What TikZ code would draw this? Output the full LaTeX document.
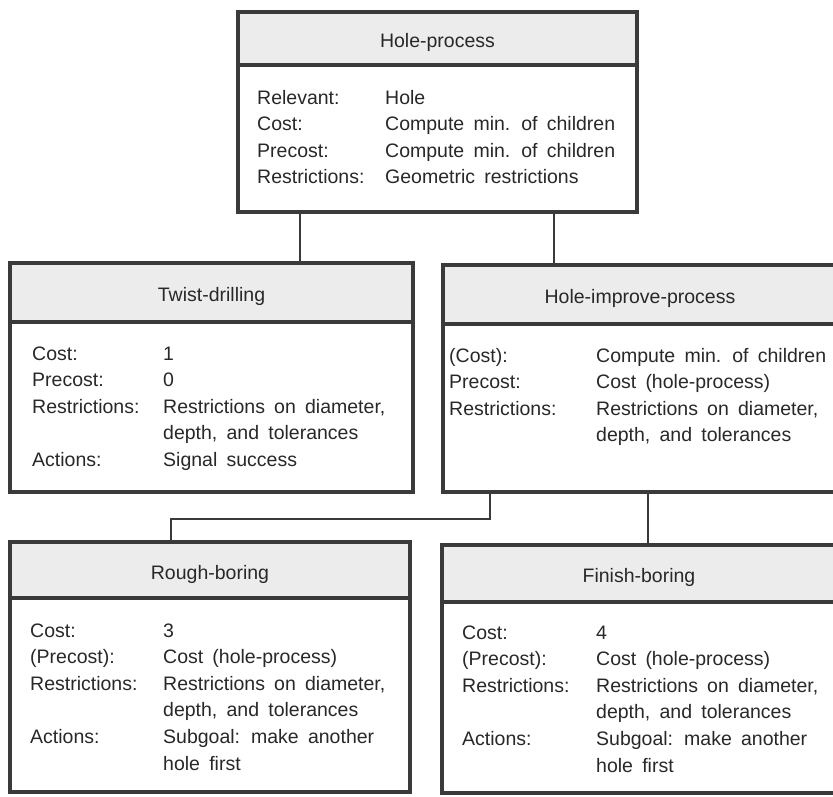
\documentclass[tikz,border=0pt]{standalone}
\usepackage{fontspec}
\setmainfont{Liberation Sans}[WordSpace=1.7]
\usepackage{array}
\definecolor{ink}{RGB}{58,58,58}
\definecolor{headfill}{RGB}{236,236,236}
\definecolor{textink}{RGB}{40,40,40}
\newcommand\cardfont{\fontsize{19.5}{26.6}\selectfont}
\begin{document}
\begin{tikzpicture}[x=1pt,y=-1pt,
  frame/.style={draw=ink, line width=3.6pt, rectangle, anchor=north west,
                inner sep=0pt, outer sep=0pt},
  header/.style={frame, fill=headfill, text=textink, font=\cardfont,
                 text height=18pt, text depth=0pt},
  body/.style={frame, fill=white},
  entries/.style={anchor=base west, inner sep=0pt, text=textink, font=\cardfont},
  link/.style={draw=ink, line width=2pt},
]
\clip (0,0) rectangle (833,796);
\fill[white] (0,0) rectangle (833,796);

% ---- Hole-process ----
\node[body, minimum width=399pt, minimum height=147pt] (hpb) at (238,65) {};
\node[header, minimum width=399pt, minimum height=53pt] (hp) at (238,12) {Hole-process};
\node[entries] (hpt) at (257,104) {\begin{tabular}[t]{@{}p{128pt}@{}l@{}}
Relevant: & Hole\\
Cost: & Compute min. of children\\
Precost: & Compute min. of children\\
Restrictions: & Geometric restrictions
\end{tabular}};

% ---- Twist-drilling ----
\node[body, minimum width=403pt, minimum height=170pt] (twb) at (10,322) {};
\node[header, minimum width=403pt, minimum height=59pt] (tw) at (10,263) {Twist-drilling};
\node[entries] (twt) at (32,360) {\begin{tabular}[t]{@{}p{131pt}@{}l@{}}
Cost: & 1\\
Precost: & 0\\
Restrictions: & Restrictions on diameter,\\
 & depth, and tolerances\\
Actions: & Signal success
\end{tabular}};

% ---- Hole-improve-process ----
\node[body, minimum width=394pt, minimum height=168pt] (hib) at (443,324) {};
\node[header, minimum width=394pt, minimum height=59pt] (hi) at (443,265) {Hole-improve-process};
\node[entries] (hit) at (449,362) {\begin{tabular}[t]{@{}p{147pt}@{}l@{}}
(Cost): & Compute min. of children\\
Precost: & Cost (hole-process)\\
Restrictions: & Restrictions on diameter,\\
 & depth, and tolerances
\end{tabular}};

% ---- Rough-boring ----
\node[body, minimum width=400pt, minimum height=194pt] (rbb) at (10,598) {};
\node[header, minimum width=400pt, minimum height=56pt] (rb) at (10,542) {Rough-boring};
\node[entries] (rbt) at (30,637) {\begin{tabular}[t]{@{}p{133pt}@{}l@{}}
Cost: & 3\\
(Precost): & Cost (hole-process)\\
Restrictions: & Restrictions on diameter,\\
 & depth, and tolerances\\
Actions: & Subgoal: make another\\
 & hole first
\end{tabular}};

% ---- Finish-boring ----
\node[body, minimum width=394pt, minimum height=191pt] (fbb) at (442,602) {};
\node[header, minimum width=394pt, minimum height=57pt] (fb) at (442,545) {Finish-boring};
\node[entries] (fbt) at (462,639) {\begin{tabular}[t]{@{}p{134pt}@{}l@{}}
Cost: & 4\\
(Precost): & Cost (hole-process)\\
Restrictions: & Restrictions on diameter,\\
 & depth, and tolerances\\
Actions: & Subgoal: make another\\
 & hole first
\end{tabular}};

% ---- tree connectors ----
\coordinate (j1) at (300,0);
\coordinate (j2) at (554,0);
\coordinate (j3) at (490,519);
\coordinate (j4) at (171,519);
\coordinate (j5) at (648,0);
\draw[link] (j1 |- hpb.south) -- (j1 |- tw.north);
\draw[link] (j2 |- hpb.south) -- (j2 |- hi.north);
\draw[link] (hib.south -| j3) -- (j3) -- (j4) -- (j4 |- rb.north);
\draw[link] (j5 |- hib.south) -- (j5 |- fb.north);
\end{tikzpicture}
\end{document}
